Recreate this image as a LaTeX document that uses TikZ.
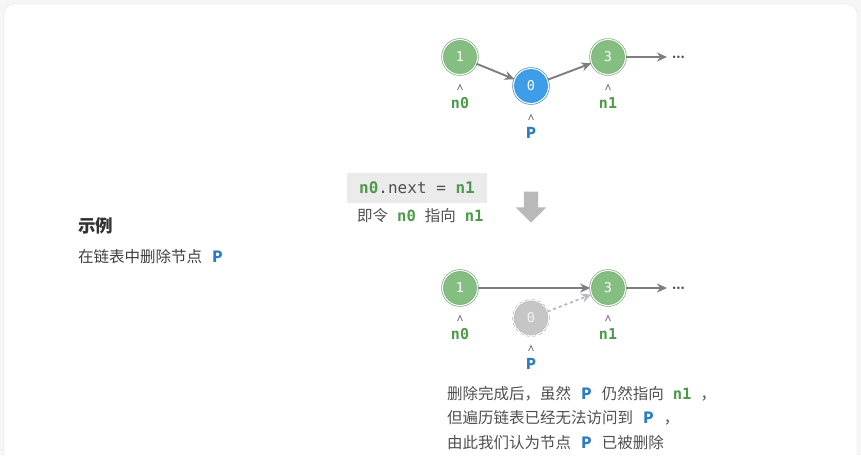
\documentclass[tikz,border=0pt]{standalone}
\usepackage{fontspec}
\setmainfont{Noto Sans CJK SC}
\setsansfont{Noto Sans CJK SC}
\setmonofont{DejaVu Sans Mono}
\usetikzlibrary{arrows.meta, positioning, shapes.arrows}
\definecolor{verde}{HTML}{84BF81}
\definecolor{verdeosc}{HTML}{4E9A4B}
\definecolor{azul}{HTML}{3E9DE8}
\definecolor{azulosc}{HTML}{2A7DC4}
\definecolor{ceniza}{HTML}{C6C6C6}
\definecolor{flechagris}{HTML}{7E7E7E}
\definecolor{textogris}{HTML}{505050}
\definecolor{codigo}{HTML}{EBEBEB}
\definecolor{lila}{HTML}{BBBBC8}
\newcommand{\cv}[1]{{\ttfamily\bfseries\color{verdeosc}#1}}
\newcommand{\nv}[1]{\hspace{9pt}\cv{#1}\hspace{9pt}}
\newcommand{\pa}[1]{\hspace{10pt}{\sffamily\bfseries\color{azulosc}#1}\hspace{10pt}}
\tikzset{
  every picture/.style={>=Stealth},
  nodo/.style={circle, minimum size=35pt, inner sep=0pt, fill=verde, draw=verde!90!black,
               double=white, double distance=1.1pt, line width=0.7pt, text=white,
               font=\ttfamily\fontsize{13.5}{13.5}\selectfont},
  nodop/.style={nodo, fill=azul, draw=azul!90!black},
  nodob/.style={nodo, fill=ceniza, draw=ceniza!90!black, dashed, text=white!90!gray},
  flecha/.style={-{Stealth[length=10pt, width=9pt]}, line width=1.9pt, draw=flechagris},
  flechad/.style={flecha, dashed, draw=lila},
  etiq/.style={font=\ttfamily\bfseries\fontsize{15}{15}\selectfont, text=verdeosc},
  etiqp/.style={font=\sffamily\bfseries\fontsize{15}{15}\selectfont, text=azulosc},
  puntos/.style={font=\bfseries\fontsize{12}{12}\selectfont, text=textogris, inner sep=0pt},
  marca/.pic={\draw[flechagris, line width=0.9pt] (-2.4,3) -- (0,-2.5) -- (2.4,3);},
}

\begin{document}
\begin{tikzpicture}[x=1pt, y=-1pt]
  \useasboundingbox (0,0) rectangle (861,455);
  \fill[gray!7] (0,0) rectangle (861,455);
  \draw[gray!20, fill=white, rounded corners=10pt] (4,4) rectangle (857,475);

  % antes
  \node[nodo] (a1) at (460,57) {1};
  \node[nodop] (a0) at (531,86) {0};
  \node[nodo] (a3) at (608,57) {3};
  \node[puntos, anchor=west] (ad) at (672,57) {...};
  \draw[flecha] (a1) -- (a0); \draw[flecha] (a0) -- (a3); \draw[flecha] (a3) -- ([xshift=-5pt]ad.west);
  \pic at (460,87) {marca}; \pic at (608,87) {marca}; \pic at (531,117) {marca};
  \node[etiq] (an0) at (460,103) {n0};
  \node[etiq] (an1) at (608,103) {n1};
  \node[etiqp] (ap) at (531,133) {P};

  % paso
  \node[fill=codigo, minimum width=140pt, minimum height=30pt, font=\ttfamily\fontsize{16}{16}\selectfont,
        text=textogris] (cod) at (417,188) {\cv{n0}.next = \cv{n1}};
  \node[anchor=west, font=\fontsize{15.5}{15.5}\selectfont, text=textogris, inner sep=0pt]
        (expl) at (357,216) {即令\nv{n0}指向\nv{n1}};
  \node[single arrow, shape border rotate=270, fill=gray!55, minimum height=31pt, minimum width=30pt,
        single arrow head extend=8pt, single arrow tip angle=90, inner sep=7pt] (bajar) at (531,203.5) {};

  \node[anchor=west, font=\bfseries\fontsize{17.5}{17.5}\selectfont, text=black!80, inner sep=0pt]
        (titulo) at (78,226) {示例};
  \node[anchor=west, font=\fontsize{15.5}{15.5}\selectfont, text=black!75, inner sep=0pt]
        (desc) at (78,257) {在链表中删除节点\pa{P}};

  % despues
  \node[nodo] (b1) at (460,288) {1};
  \node[nodob] (b0) at (531,318) {0};
  \node[nodo] (b3) at (608,288) {3};
  \node[puntos, anchor=west] (bd) at (672,288) {...};
  \draw[flecha] (b1) -- (b3); \draw[flechad] (b0) -- (b3); \draw[flecha] (b3) -- ([xshift=-5pt]bd.west);
  \pic at (460,318) {marca}; \pic at (608,318) {marca}; \pic at (531,348) {marca};
  \node[etiq] (bn0) at (460,334) {n0};
  \node[etiq] (bn1) at (608,334) {n1};
  \node[etiqp] (bp) at (531,364) {P};

  \node[anchor=north west, align=left, font=\fontsize{15.5}{24.5}\selectfont, text=textogris, inner sep=0pt]
        (nota) at (447,386) {删除完成后，虽然\pa{P}仍然指向\nv{n1}，\\但遍历链表已经无法访问到\pa{P}，\\由此我们认为节点\pa{P}已被删除};
\end{tikzpicture}
\end{document}
